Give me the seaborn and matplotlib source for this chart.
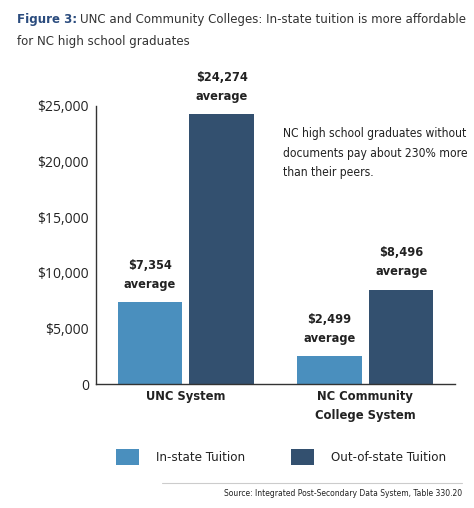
import matplotlib
matplotlib.use('Agg')
import matplotlib.pyplot as plt
import seaborn as sns
import pandas as pd
from matplotlib.lines import Line2D

# data
systems = ["UNC System", "NC Community\nCollege System"]
tuition_types = ["In-state Tuition", "Out-of-state Tuition"]
in_state = [7354, 2499]
out_of_state = [24274, 8496]
y_ticks = [0, 5000, 10000, 15000, 20000, 25000]
y_tick_labels = ["0", "$5,000", "$10,000", "$15,000", "$20,000", "$25,000"]

colors = ["#4a8fbe", "#33506f"]
text_dark = "#222222"
narrow = {"family": "DejaVu Sans", "fontstretch": "condensed"}
W, H = 474, 508

sns.set_theme(style="white")
plt.rcParams['font.family'] = ["Open Sans", "DejaVu Sans"]

df = pd.DataFrame({
    "system": systems * 2,
    "type": [tuition_types[0]] * 2 + [tuition_types[1]] * 2,
    "value": in_state + out_of_state,
})

fig = plt.figure(figsize=(W / 100, H / 100), dpi=100)
renderer = fig.canvas.get_renderer()


def text_width(s, size, weight='normal'):
    t = fig.text(0, 0, s, fontsize=size, fontweight=weight, **narrow)
    w = t.get_window_extent(renderer=renderer).width
    t.remove()
    return w


def fit_size(s, target_px, weight='normal', base=10.0):
    # font size that makes the condensed text about target_px wide
    return base * target_px / text_width(s, base, weight)


title_fs = fit_size("UNC and Community Colleges: In-state tuition is more affordable", 384)
bold_fs = fit_size("$24,274", 52, 'bold')
xlab_fs = fit_size("College System", 100, 'bold')
note_fs = fit_size("NC high school graduates without", 184)
leg_fs = fit_size("Out-of-state Tuition", 114)
src_fs = fit_size("Source: Integrated Post-Secondary Data System, Table 330.20", 240)

ax = fig.add_axes([96 / W, 1 - 384 / H, 359 / W, 278 / H])

sns.barplot(data=df, x="system", y="value", hue="type", hue_order=tuition_types,
            palette=colors, saturation=1, width=0.8, gap=0.1, ax=ax, legend=False,
            linewidth=0, edgecolor='none')

ax.set_xlim(-0.5, 1.5)
ax.set_ylim(0, 25000)
ax.set_yticks(y_ticks)
ax.set_yticklabels(y_tick_labels, fontsize=10, color=text_dark)
ax.set_xticks([0, 1])
ax.set_xticklabels(systems, fontsize=xlab_fs, fontweight='bold', color=text_dark,
                   linespacing=1.65, va='top', **narrow)
ax.tick_params(axis='y', length=0, pad=5)
ax.tick_params(axis='x', length=0, pad=4)
ax.set_xlabel("")
ax.set_ylabel("")
for side in ["top", "right"]:
    ax.spines[side].set_visible(False)
for side in ["left", "bottom"]:
    ax.spines[side].set_color("#333333")
    ax.spines[side].set_linewidth(1.0)
ax.grid(False)

# value labels above each bar
for container, vals in zip(ax.containers, [in_state, out_of_state]):
    for bar, v in zip(container, vals):
        cx = bar.get_x() + bar.get_width() / 2
        top = bar.get_height()
        ax.annotate(f"${v:,}", (cx, top), xytext=(0, 26.5), textcoords='offset points',
                    ha='center', va='center', fontsize=bold_fs, fontweight='bold',
                    color=text_dark, annotation_clip=False, **narrow)
        ax.annotate("average", (cx, top), xytext=(0, 12.8), textcoords='offset points',
                    ha='center', va='center', fontsize=bold_fs, fontweight='bold',
                    color=text_dark, annotation_clip=False, **narrow)

# note inside the plot
note_lines = ["NC high school graduates without", "documents pay about 230% more",
              "than their peers."]
for i, line in enumerate(note_lines):
    fig.text(283 / W, 1 - (134 + 19 * i) / H, line, ha='left', va='center',
             fontsize=note_fs, color=text_dark, **narrow)

# title in two parts
t1 = fig.text(17 / W, 1 - 20 / H, "Figure 3:", ha='left', va='center', fontsize=title_fs,
              fontweight='bold', color="#2b4c7e", **narrow)
bb = t1.get_window_extent(renderer=renderer)
fig.text((bb.x1 + 3) / W, 1 - 20 / H,
         "UNC and Community Colleges: In-state tuition is more affordable",
         ha='left', va='center', fontsize=title_fs, color="#333333", **narrow)
fig.text(17 / W, 1 - 41 / H, "for NC high school graduates", ha='left', va='center',
         fontsize=title_fs, color="#333333", **narrow)

# legend: patches at x=116 and x=291, text 17px after each patch
handles = [plt.Rectangle((0, 0), 1, 1, facecolor=c, edgecolor='none') for c in colors]
leg_px = leg_fs * 100 / 72
gap_px = 291 - (156 + text_width(tuition_types[0], leg_fs))
fig.legend(handles, tuition_types, loc='center left',
           bbox_to_anchor=(116 / W, 1 - 457 / H), ncol=2, frameon=False,
           handlelength=23 / leg_px, handleheight=21 / leg_px, handletextpad=17 / leg_px,
           columnspacing=gap_px / leg_px, borderpad=0, borderaxespad=0,
           prop={'family': 'DejaVu Sans', 'stretch': 'condensed', 'size': leg_fs})
for txt in fig.legends[0].get_texts():
    txt.set_color(text_dark)

# source rule and note
fig.add_artist(Line2D([162 / W, 462 / W], [1 - 483 / H, 1 - 483 / H],
                      color="#cccccc", linewidth=0.8))
fig.text(462 / W, 1 - 494 / H, "Source: Integrated Post-Secondary Data System, Table 330.20",
         ha='right', va='center', fontsize=src_fs, color=text_dark, **narrow)

fig.savefig("out.png", dpi=100, facecolor='white')
